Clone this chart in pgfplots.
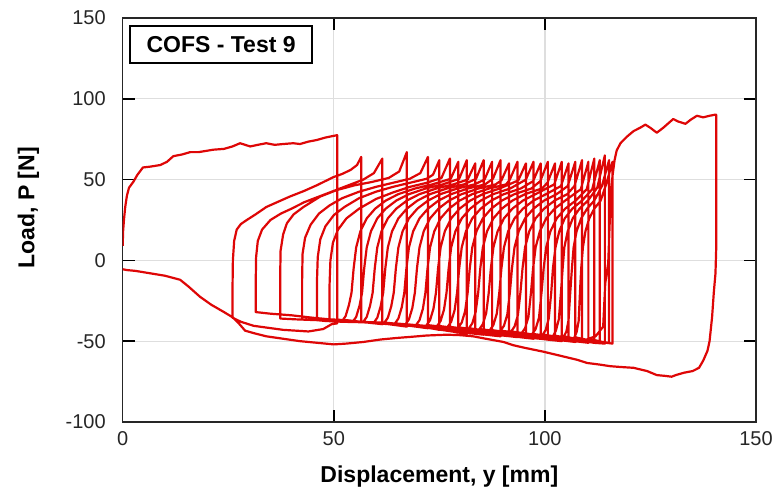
\documentclass[border=0pt]{standalone}
\usepackage{fontspec}
\setmainfont{Liberation Sans}
\usepackage{pgfplots}
\pgfplotsset{compat=1.18}
\definecolor{testred}{RGB}{222,6,6}
\definecolor{gridgray}{RGB}{222,222,222}

\begin{document}
\begin{tikzpicture}
\begin{axis}[
  width=316.7pt, height=202pt, scale only axis,
  xmin=0, xmax=150, ymin=-100, ymax=150,
  xtick={0,50,100,150}, ytick={-100,-50,0,50,100,150},
  tick align=inside, major tick length=6pt,
  every tick/.style={black, line width=0.8pt},
  axis line style={black!85, line width=0.8pt},
  grid=major, major grid style={gridgray, line width=0.6pt},
  tick label style={font=\fontsize{10}{12}\selectfont, text=black!85},
  /pgf/number format/assume math mode=true,
  xticklabel style={inner sep=0pt, yshift=-4.8pt},
  yticklabel style={inner sep=0pt, xshift=-8.3pt},
  xlabel={Displacement, y [mm]},
  ylabel={Load, P [N]},
  label style={font=\fontsize{11.5}{13}\selectfont\bfseries, inner sep=1pt},
  xlabel style={at={(axis description cs:0.5,-0.134)}, anchor=center},
  ylabel style={at={(axis description cs:-0.149,0.53)}, anchor=center},
]
% whole test record, one continuous trace
\addplot[testred, line width=1.1pt, line join=round] coordinates {
(0,9) (0.1,18) (0.3,25) (0.6,33) (1,40) (1.5,45) (2.5,48.5) (3.5,53) (4.8,57.5) (6.5,58) (8.9,59) (10.5,61) (12,64.5) (14,65.5) (16,67) (18,67) (21.5,68.5) (24,69) (26,70.5) (27.8,72.5) (29,71.5) (30.2,70.5) (32,71.5) (34,72.5) (36,71.5) (38,72) (40.4,72.5) (42,72) (44,73.5) (46,74.5) (48,76) (50.8,77.5)
(50.8,-39) (49.5,-39.5) (47.5,-42.5) (44,-44) (38,-43) (31,-40.5) (28,-38) (26,-35.5)
(26,-20) (26.1,0) (26.4,12) (27,19) (28,22.5) (29.4,25) (31.5,28.5) (34,33) (37,36.5) (39.6,39.5) (43,43) (46,46.5) (49.9,51.5) (52,53.5) (54,56) (55.5,59) (56.5,64) (56.5,-38)
(53,-37) (49,-36.5) (45,-35.5) (40,-34) (35,-33) (31.5,-32)
(31.5,-15) (31.6,2) (32,12) (33,19) (35,25) (37.5,29) (40,32) (43,36) (46,39) (50,43) (54,47) (57,50) (59.5,54) (61.5,63) (61.5,-39.5)
(58,-38.5) (52,-37.5) (46,-37) (41,-36.5) (37.3,-36)
(37.3,-10) (37.4,6) (38,16) (38.9,23) (40.5,28.5) (42.8,33) (46.8,39.5) (50.7,43.5) (55,46.5) (59,48.5) (63,51) (65.5,55) (67.3,67) (67.3,-41)
(63,-39.5) (56,-38) (50,-37.5) (46,-37) (42.5,-36.5)
(42.5,-12) (42.6,4) (43.2,14) (44.5,22) (46.5,29) (49,34) (52,38.5) (56,42.5) (60,45.5) (64,48) (68,50.5) (70.5,54) (72.3,64) (72.3,-42)
(68,-40.5) (60,-38.5) (52,-38) (48,-37.5) (46,-37)
(46,-14) (46.2,2) (46.8,13) (48,21) (50,28) (52.5,33) (56,38.5) (60,42.5) (64,45.5) (68,48) (72,50.5) (73.5,53) (75,62) (75,-43)
(71,-41) (62,-38.5) (55,-38) (51,-37.5) (49,-37.5)
(49,-15) (49.2,0) (49.8,11) (51,19) (53,26) (56,32) (60,38) (64,42) (68,45.5) (72,48) (75.5,51) (77.5,63) (77.5,-43.5)
(74,-42) (64,-39) (52,-37.5)
(52.8,-34.5) (53.6,-27.5) (54.2,-20) (54.7,-5) (55.3,8) (56.3,18) (57.8,26) (59.8,32) (62.3,37) (65.3,41) (69.3,44.5) (73.3,47) (77.7,50.5) (79.5,61) (79.5,-44)
(76,-43) (67,-39.5) (54.5,-38)
(55.3,-35) (56.1,-28) (56.7,-20) (57.2,-5) (57.8,8) (58.8,18) (60.3,26) (62.3,32) (64.8,37) (67.8,41) (71.8,44.5) (75.8,47) (79.7,50.5) (81.5,62) (81.5,-45.5)
(78,-44) (69,-40.5) (57,-38)
(57.8,-35) (58.6,-28) (59.2,-20) (59.7,-5) (60.3,8) (61.3,18) (62.8,26) (64.8,32) (67.3,37) (70.3,41) (74.3,44.5) (78.3,47) (81.7,50) (83.5,60) (83.5,-44.5)
(80,-43.5) (71.5,-40.5) (59.5,-38.5)
(60.3,-35.5) (61.1,-28.5) (61.7,-20) (62.2,-5) (62.8,8) (63.8,18) (65.3,26) (67.3,32) (69.8,37) (72.8,41) (76.8,44.5) (80.8,47) (83.7,50.5) (85.5,62) (85.5,-46)
(82,-45) (74,-41.5) (62,-38.5)
(62.8,-35.5) (63.6,-28.5) (64.2,-20) (64.7,-5) (65.3,8) (66.3,18) (67.8,26) (69.8,32) (72.3,37) (75.3,41) (79.3,44.5) (83.3,47) (85.7,50) (87.5,61) (87.5,-45)
(84,-44) (76,-41.5) (64.5,-39)
(65.3,-36) (66.1,-29) (66.7,-20) (67.2,-5) (67.8,8) (68.8,18) (70.3,26) (72.3,32) (74.8,37) (77.8,41) (81.8,44.5) (85.8,47) (87.7,50.5) (89.5,62) (89.5,-47)
(86,-46) (78,-42) (67,-39.5)
(67.8,-36.5) (68.6,-29.5) (69.2,-20) (69.7,-5) (70.3,8) (71.3,18) (72.8,26) (74.8,32) (77.3,37) (80.3,41) (84.3,44.5) (88.3,47) (89.7,49.5) (91.5,60) (91.5,-46)
(88,-45) (80,-42.5) (69.5,-40)
(70.3,-37) (71.1,-30) (71.7,-20) (72.2,-5) (72.8,8) (73.8,18) (75.3,26) (77.3,32) (79.8,37) (82.8,41) (86.8,44.5) (90.8,47) (91.7,50) (93.5,61) (93.5,-47.5)
(90,-46.5) (82,-43) (72,-40)
(72.8,-37) (73.6,-30) (74.2,-20) (74.7,-5) (75.3,8) (76.3,18) (77.8,26) (79.8,32) (82.3,37) (85.3,41) (89.3,44.5) (93.7,49.5) (95.5,60) (95.5,-47)
(92,-46) (84,-43.5) (74.5,-40.5)
(75.3,-37.5) (76.1,-30.5) (76.7,-20) (77.2,-5) (77.8,8) (78.8,18) (80.3,26) (82.3,32) (84.8,37) (87.8,41) (91.8,44.5) (95.5,50) (97.3,61) (97.3,-48.5)
(94,-47.5) (86,-44) (77,-41)
(77.8,-38) (78.6,-31) (79.2,-20) (79.7,-5) (80.3,8) (81.3,18) (82.8,26) (84.8,32) (87.3,37) (90.3,41) (94.3,44.5) (97.2,49) (99,60) (99,-48)
(95.5,-47) (88,-44) (79.5,-41.5)
(80.3,-38.5) (81.1,-31.5) (81.7,-20) (82.2,-5) (82.8,8) (83.8,18) (85.3,26) (87.3,32) (89.8,37) (92.8,41) (96.8,44.5) (98.9,49) (100.7,61) (100.7,-49)
(97,-48) (90,-45) (82,-42)
(82.8,-39) (83.6,-32) (84.2,-20) (84.7,-5) (85.3,8) (86.3,18) (87.8,26) (89.8,32) (92.3,37) (95.3,41) (99.3,44.5) (100.6,48) (102.4,60) (102.4,-48.5)
(99,-47.5) (92,-45) (84.5,-42.5)
(85.3,-39.5) (86.1,-32.5) (86.7,-20) (87.2,-5) (87.8,8) (88.8,18) (90.3,26) (92.3,32) (94.8,37) (97.8,41) (102.2,47) (104,61) (104,-50)
(100.5,-49) (95,-46) (87,-43)
(87.8,-40) (88.6,-33) (89.2,-20) (89.7,-5) (90.3,8) (91.3,18) (92.8,26) (94.8,32) (97.3,37) (100.3,41) (103.8,46) (105.6,60) (105.6,-49.5)
(102,-48.5) (97,-46) (89.5,-43.5)
(90.3,-40.5) (91.1,-33.5) (91.7,-20) (92.2,-5) (92.8,8) (93.8,18) (95.3,26) (97.3,32) (99.8,37) (102.8,41) (105.4,46) (107.2,61) (107.2,-50.5)
(104,-49.5) (99,-46.5) (92,-44)
(92.8,-41) (93.6,-34) (94.2,-20) (94.7,-5) (95.3,8) (96.3,18) (97.8,26) (99.8,32) (102.3,37) (105.3,41) (107,46) (108.8,62) (108.8,-50)
(105.5,-49.5) (101,-47) (94.5,-45)
(95.3,-42) (96.1,-35) (96.7,-20) (97.2,-5) (97.8,8) (98.8,18) (100.3,26) (102.3,32) (104.8,37) (108.5,44) (110.3,61) (110.3,-51)
(107,-50) (103,-47.5) (97,-45.5)
(97.8,-42.5) (98.6,-35.5) (99.2,-20) (99.7,-5) (100.3,8) (101.3,18) (102.8,26) (104.8,32) (107.3,37) (109.9,44) (111.7,63) (111.7,-50.5)
(108.5,-50) (105,-48) (99.5,-46)
(100.2,-43) (100.9,-36) (101.5,-20) (101.9,-5) (102.5,8) (103.4,18) (104.7,26) (106.5,32) (108.8,37) (111.2,44) (113,62) (113,-51)
(110,-50.5) (107,-48.5) (102,-46.5)
(102.6,-43.5) (103.3,-36.5) (103.8,-20) (104.2,-5) (104.6,8) (105.4,18) (106.6,26) (108.2,32) (110.2,37) (112.4,45) (114.2,65) (114.2,-51.5)
(111.5,-51) (109,-49.5) (104.5,-47)
(105.1,-44) (105.6,-37) (106,-20) (106.4,-5) (106.8,8) (107.5,18) (108.6,26) (110,32) (111.7,37) (113.5,46) (115.2,62) (115.2,-51)
(113,-50.5) (110.5,-49.5) (107,-47.5)
(107.5,-44.5) (108,-37.5) (108.3,-20) (108.6,-5) (109,8) (109.6,18) (110.5,26) (111.7,32) (113.2,37) (114.5,47) (116,61) (116,-51.5)
(114.5,-51) (112,-49.5) (110,-48.8)
(112,-47) (113.8,-41) (114.3,-14) (115,-1.5) (115.3,20) (115.6,40) (116,52) (116.5,62) (117,68) (117.9,72.5) (119.4,76.5) (121,80) (122.5,82) (123.8,84) (125,82) (126.5,79) (128,82) (130.4,87.5) (131.5,86) (133.3,84.5) (134.5,87) (136,89.5) (137.5,88.5) (139,89.5) (140.4,90.2) (140.6,90)
(140.6,10) (140.4,-8) (140,-20) (139.6,-35) (139,-50) (138.5,-56) (137.5,-62) (136.5,-66.5) (135,-68.5) (133,-69.5) (131,-71) (130,-72) (128.5,-71.5) (126.5,-71) (124.2,-68.5) (121,-66.5) (118,-66) (115.5,-65.5) (113,-64.5) (110,-63.5) (107.6,-61.5) (103.6,-59) (99.6,-56.5) (95,-54) (92.5,-52.5) (90.2,-50.5) (86,-48.5) (83,-47) (80,-46.3) (76.8,-46) (72,-46.5) (68.9,-47.2) (65,-48) (61,-49) (57,-50.5) (53,-51.5) (50,-52) (46,-51) (42,-50) (38,-48.5) (34,-47) (31,-45) (29,-43.5) (27.5,-39) (26.2,-35.5) (24,-32) (21,-27.5) (18.3,-22.5) (15.5,-16) (13.6,-12) (10,-9.5) (6.5,-8) (3,-6.5) (1,-6) (0,-5.5)
};
\node[draw=black, line width=1.1pt, fill=white, anchor=north west,
  minimum width=91pt, minimum height=18.5pt, inner sep=0pt,
  font=\fontsize{11.5}{13}\selectfont\bfseries] at (rel axis cs:0.01,0.983) {COFS - Test 9};
\end{axis}
\path (current axis.south west) ++(-61.35pt,-35.5pt) coordinate (bbA);
\path (current axis.north east) ++(9pt,9pt) coordinate (bbB);
\path (bbA) rectangle (bbB);
\end{tikzpicture}
\end{document}
